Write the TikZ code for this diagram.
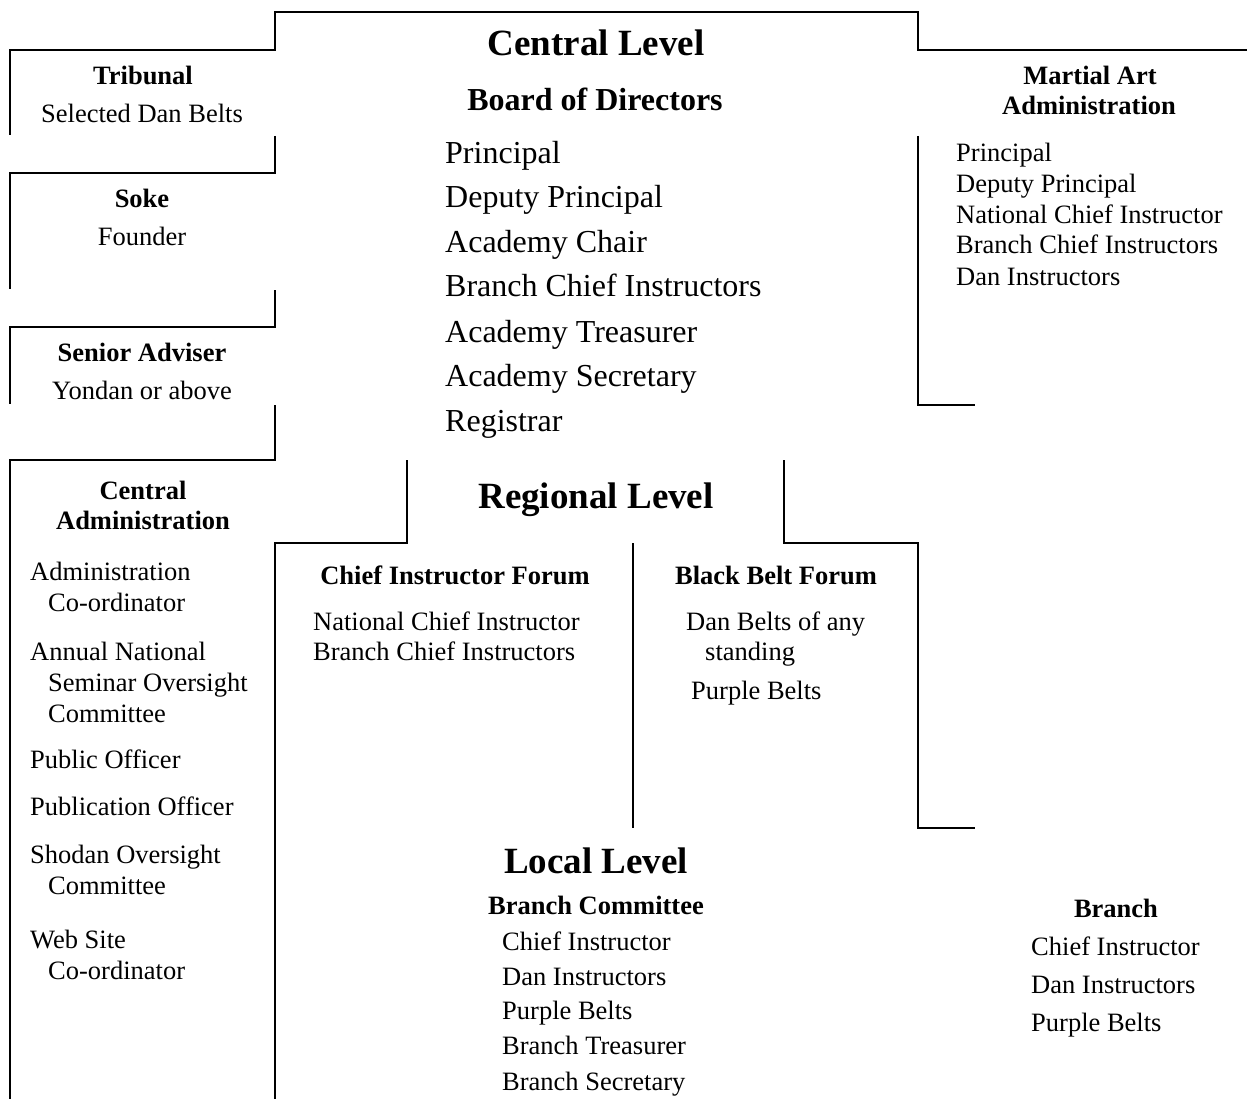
\documentclass[tikz,border=0pt]{standalone}
\usepackage{fontspec}
\setmainfont{Liberation Serif}
\begin{document}
\begin{tikzpicture}[x=1pt,y=-1pt,
  frame/.style={line width=2pt,line join=miter,black},
  txt/.style={inner sep=0pt,font=\fontsize{26.5}{30}\selectfont},
  hd/.style={inner sep=0pt,font=\fontsize{26.5}{30}\selectfont\bfseries},
  bigtxt/.style={inner sep=0pt,font=\fontsize{32}{36}\selectfont},
  bighd/.style={inner sep=0pt,font=\fontsize{32}{36}\selectfont\bfseries},
  lvl/.style={inner sep=0pt,font=\fontsize{37}{42}\selectfont\bfseries}]
\useasboundingbox[fill=white] (0,0) rectangle (1247,1099);

% frames
\draw[frame] (10,135) -- (10,50) -- (275,50) -- (275,12) -- (918,12) -- (918,50) -- (1247,50);
\draw[frame] (275,136) -- (275,173) -- (10,173) -- (10,289);
\draw[frame] (275,290) -- (275,327) -- (10,327) -- (10,404);
\draw[frame] (275,405) -- (275,460) -- (10,460) -- (10,1099);
\draw[frame] (918,136) -- (918,405) -- (975,405);
\draw[frame] (407,460) -- (407,543) -- (275,543) -- (275,1099);
\draw[frame] (784,460) -- (784,543) -- (918,543) -- (918,828) -- (975,828);
\draw[frame] (633,543) -- (633,828);

% central level
\node[lvl,anchor=base] (cl) at (596,56) {Central Level};
\node[bighd,anchor=base] (bod) at (595,111) {Board of Directors};
\node[bigtxt,anchor=base west] (b1) at (445,164) {Principal};
\node[bigtxt,anchor=base west] (b2) at (445,208) {Deputy Principal};
\node[bigtxt,anchor=base west] (b3) at (445,253) {Academy Chair};
\node[bigtxt,anchor=base west] (b4) at (445,297) {Branch Chief Instructors};
\node[bigtxt,anchor=base west] (b5) at (445,342) {Academy Treasurer};
\node[bigtxt,anchor=base west] (b6) at (445,386) {Academy Secretary};
\node[bigtxt,anchor=base west] (b7) at (445,431) {Registrar};

% left column
\node[hd,anchor=base] (trib) at (143,85) {Tribunal};
\node[txt,anchor=base] (tribs) at (142,123) {Selected Dan Belts};
\node[hd,anchor=base] (soke) at (142,208) {Soke};
\node[txt,anchor=base] (sokes) at (142,246) {Founder};
\node[hd,anchor=base] (sa) at (142,361) {Senior Adviser};
\node[txt,anchor=base] (sas) at (142,399) {Yondan or above};

% martial art admin
\node[hd,anchor=base] (ma1) at (1090,85) {Martial Art};
\node[hd,anchor=base] (ma2) at (1089,115) {Administration};
\node[txt,anchor=base west] (m1) at (956,162) {Principal};
\node[txt,anchor=base west] (m2) at (956,193) {Deputy Principal};
\node[txt,anchor=base west] (m3) at (956,224) {National Chief Instructor};
\node[txt,anchor=base west] (m4) at (956,254) {Branch Chief Instructors};
\node[txt,anchor=base west] (m5) at (956,285) {Dan Instructors};

% central administration
\node[hd,anchor=base] (ca1) at (143,499) {Central};
\node[hd,anchor=base] (ca2) at (143,529) {Administration};
\node[txt,anchor=base west] (c1) at (30,580) {Administration};
\node[txt,anchor=base west] (c1b) at (48,611) {Co-ordinator};
\node[txt,anchor=base west] (c2) at (30,660) {Annual National};
\node[txt,anchor=base west] (c2b) at (48,691) {Seminar Oversight};
\node[txt,anchor=base west] (c2c) at (48,722) {Committee};
\node[txt,anchor=base west] (c3) at (30,768) {Public Officer};
\node[txt,anchor=base west] (c4) at (30,815) {Publication Officer};
\node[txt,anchor=base west] (c5) at (30,863) {Shodan Oversight};
\node[txt,anchor=base west] (c5b) at (48,894) {Committee};
\node[txt,anchor=base west] (c6) at (30,948) {Web Site};
\node[txt,anchor=base west] (c6b) at (48,979) {Co-ordinator};

% regional level
\node[lvl,anchor=base] (rl) at (596,508) {Regional Level};
\node[hd,anchor=base] (cif) at (455,584) {Chief Instructor Forum};
\node[txt,anchor=base west] (f1) at (313,630) {National Chief Instructor};
\node[txt,anchor=base west] (f2) at (313,660) {Branch Chief Instructors};
\node[hd,anchor=base] (bbf) at (776,584) {Black Belt Forum};
\node[txt,anchor=base west] (g1) at (686,630) {Dan Belts of any};
\node[txt,anchor=base west] (g1b) at (705,660) {standing};
\node[txt,anchor=base west] (g2) at (691,699) {Purple Belts};

% local level
\node[lvl,anchor=base] (ll) at (596,873) {Local Level};
\node[hd,anchor=base] (bc) at (596,914) {Branch Committee};
\node[txt,anchor=base west] (l1) at (502,950) {Chief Instructor};
\node[txt,anchor=base west] (l2) at (502,985) {Dan Instructors};
\node[txt,anchor=base west] (l3) at (502,1019) {Purple Belts};
\node[txt,anchor=base west] (l4) at (502,1054) {Branch Treasurer};
\node[txt,anchor=base west] (l5) at (502,1090) {Branch Secretary};

% branch
\node[hd,anchor=base] (br) at (1116,917) {Branch};
\node[txt,anchor=base west] (r1) at (1031,955) {Chief Instructor};
\node[txt,anchor=base west] (r2) at (1031,993) {Dan Instructors};
\node[txt,anchor=base west] (r3) at (1031,1031) {Purple Belts};
\end{tikzpicture}
\end{document}
